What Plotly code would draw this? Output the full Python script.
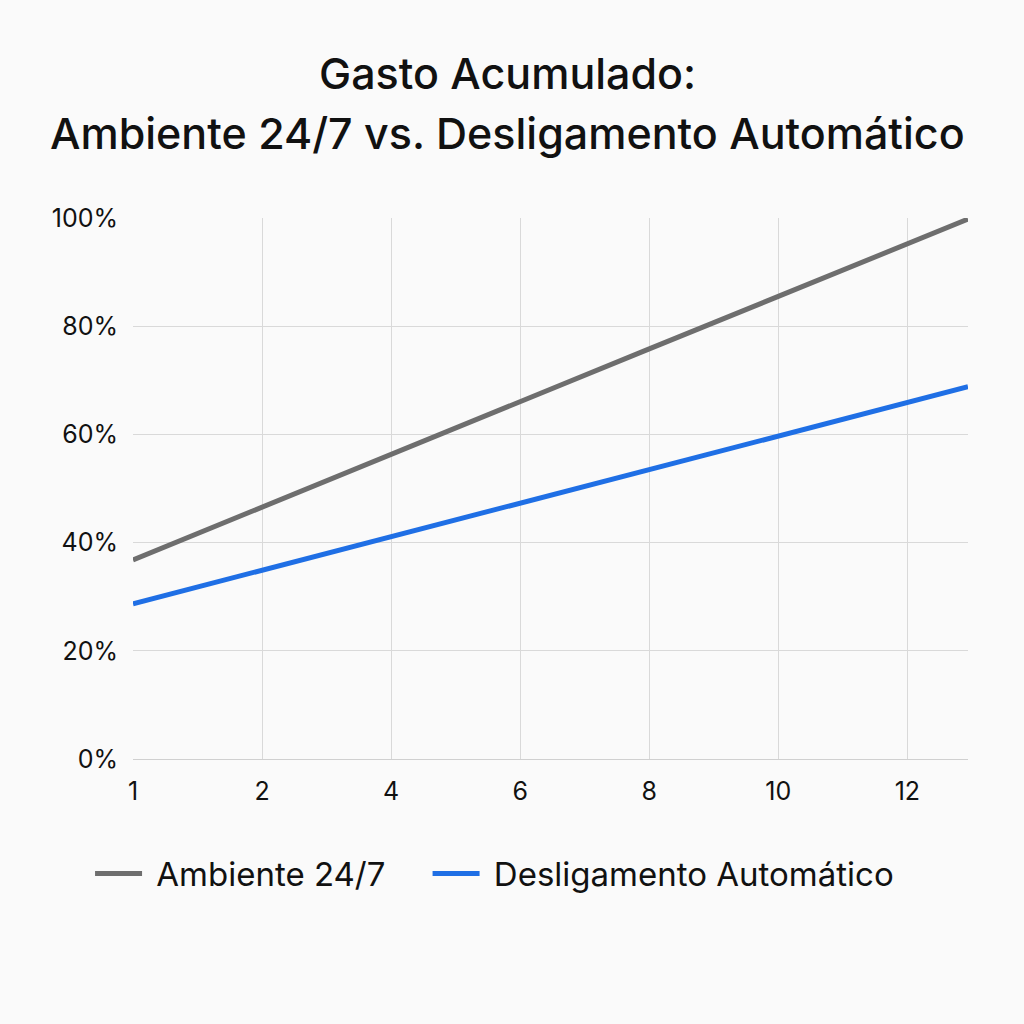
import plotly.graph_objects as go

# Data
tick_labels = ["1", "2", "4", "6", "8", "10", "12"]
tick_pos = [0, 1, 2, 3, 4, 5, 6]
x_pos = [0, 1, 2, 3, 4, 5, 6, 6.47]
ambiente_247 = [36.8, 46.6, 56.3, 66.0, 75.8, 85.5, 95.3, 99.8]
desligamento = [28.7, 34.9, 41.1, 47.3, 53.5, 59.7, 65.9, 68.8]
series_names = ["Ambiente 24/7", "Desligamento Automático"]

BG = "#fafafa"
FONT = "Inter"
NB = "\u00a0"

fig = go.Figure()
fig.add_trace(go.Scatter(x=x_pos, y=ambiente_247, mode="lines",
                         name=NB + series_names[0] + NB * 4,
                         line=dict(color="#6e6e6e", width=5)))
fig.add_trace(go.Scatter(x=x_pos, y=desligamento, mode="lines",
                         name=NB + series_names[1],
                         line=dict(color="#1f6fe5", width=5)))

fig.update_layout(
    width=1024, height=1024,
    paper_bgcolor=BG, plot_bgcolor=BG,
    margin=dict(l=133, r=56, t=218, b=265),
    font=dict(family=FONT, color="#111111"),
    showlegend=True,
    legend=dict(orientation="h", x=0.433, xanchor="center", y=-0.16, yanchor="top",
                font=dict(size=33, family=FONT, color="#111111"),
                bgcolor="rgba(0,0,0,0)", itemwidth=47),
    annotations=[
        dict(text="Gasto Acumulado:", xref="paper", yref="paper", x=0.449, xanchor="center",
             y=1, yshift=145, yanchor="middle", showarrow=False,
             font=dict(size=43, family=FONT, color="#111111", weight=500)),
        dict(text="Ambiente 24/7 vs. Desligamento Automático", xref="paper", yref="paper",
             x=0.449, xanchor="center", y=1, yshift=85, yanchor="middle", showarrow=False,
             font=dict(size=43, family=FONT, color="#111111", weight=500)),
    ],
)

fig.update_xaxes(range=[0, 6.47], tickmode="array", tickvals=tick_pos, ticktext=tick_labels,
                 showgrid=True, gridcolor="#d9d9d9", gridwidth=1,
                 showline=True, linecolor="#d0d0d0", linewidth=1,
                 zeroline=False, ticks="", ticklabelstandoff=10,
                 tickfont=dict(size=25, family=FONT, color="#111111"))
fig.update_yaxes(range=[0, 100], tickvals=[0, 20, 40, 60, 80, 100],
                 ticktext=["0%", "20%", "40%", "60%", "80%", "100%"],
                 showgrid=True, gridcolor="#d9d9d9", gridwidth=1,
                 zeroline=False, ticks="", ticklabelstandoff=14,
                 tickfont=dict(size=25, family=FONT, color="#111111"))

fig.write_html("out.html")
